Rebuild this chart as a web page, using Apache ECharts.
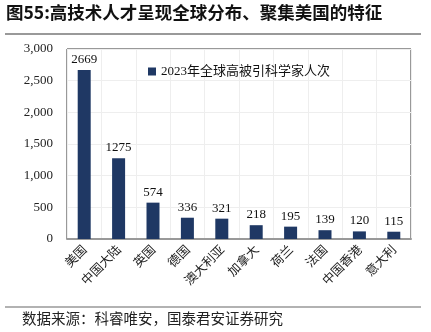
<!DOCTYPE html>
<html><head><meta charset="utf-8">
<script src="https://cdn.jsdelivr.net/npm/echarts@6/dist/echarts.min.js"></script>
<style>html,body{margin:0;padding:0;background:#fff}#c{width:431px;height:332px}</style>
</head><body><div id="c"></div>
<script>
const categories = ['美国','中国大陆','英国','德国','澳大利亚','加拿大','荷兰','法国','中国香港','意大利'];
const values = [2669,1275,574,336,321,218,195,139,120,115];
const seriesName = '2023年全球高被引科学家人次';
const yTicks = [0,500,1000,1500,2000,2500,3000];
const serif = '"Liberation Serif","Noto Sans CJK SC",serif';
const chart = echarts.init(document.getElementById('c'));
chart.setOption({
  animation:false,
  graphic:[
    {type:'text',left:6,top:4,style:{text:'图55:高技术人才呈现全球分布、聚集美国的特征',font:'bold 17.5px "Noto Sans CJK SC"',fill:'#111'}},
    {type:'line',shape:{x1:5,y1:34,x2:421,y2:34},style:{stroke:'#777',lineWidth:1.5}},
    {type:'line',shape:{x1:5,y1:307,x2:421,y2:307},style:{stroke:'#999',lineWidth:1.5}},
    {type:'text',left:22,top:311,style:{text:'数据来源：科睿唯安，国泰君安证券研究',font:'14.5px "Noto Sans CJK SC"',fill:'#222'}}
  ],
  grid:{left:67,top:49,width:344,height:190,show:true,borderColor:'#333',borderWidth:1},
  legend:{data:[seriesName],left:143,top:60,itemWidth:8,itemHeight:8,icon:'rect',itemGap:4,
    textStyle:{fontFamily:serif,fontSize:13,color:'#111'}},
  xAxis:{type:'category',data:categories,
    axisLine:{lineStyle:{color:'#999',width:2}},axisTick:{show:false},
    splitLine:{show:true,lineStyle:{color:'#eee'}},
    axisLabel:{rotate:45,interval:0,fontFamily:'"Noto Sans CJK SC"',fontSize:12.5,color:'#222',margin:8}},
  yAxis:{type:'value',min:0,max:3000,interval:500,
    axisLine:{show:false},axisTick:{show:false},
    splitLine:{lineStyle:{color:'#eee'}},
    axisLabel:{fontFamily:serif,fontSize:13,color:'#222',margin:14,
      formatter:v=>yTicks.includes(v)?v.toLocaleString('en-US'):''}},
  series:[{type:'bar',name:seriesName,data:values,barWidth:13,
    itemStyle:{color:'#1f3864'},
    label:{show:true,position:'top',distance:4,fontFamily:serif,fontSize:13,color:'#111'}}]
});
</script></body></html>
